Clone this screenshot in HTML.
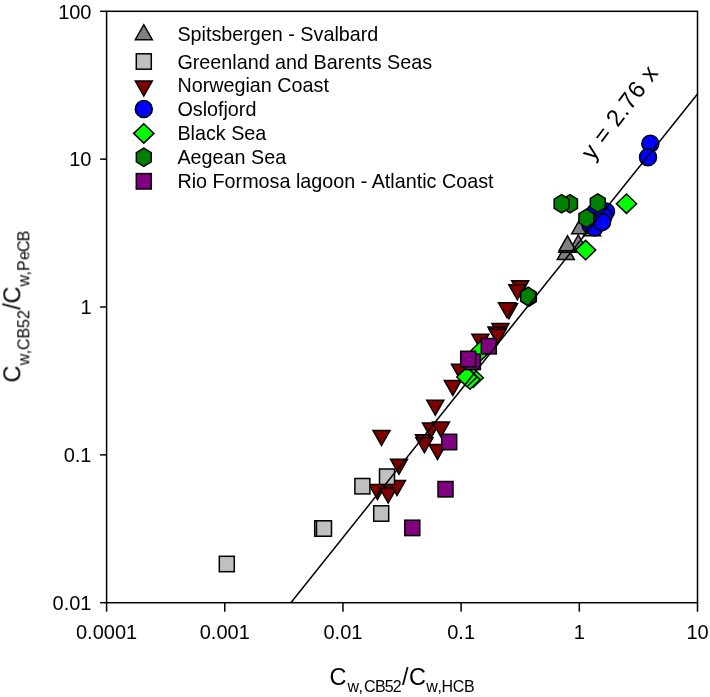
<!DOCTYPE html>
<html><head><meta charset="utf-8"><style>
html,body{margin:0;padding:0;background:#fff;}
body{width:710px;height:697px;overflow:hidden;font-family:"Liberation Sans",sans-serif;}
svg{display:block;}
</style></head><body>
<svg width="710" height="697" viewBox="0 0 710 697">
<rect width="710" height="697" fill="#fff"/>
<g stroke="#000" stroke-width="1.5" stroke-linejoin="miter"><path d="M380.50,484.05L397.50,484.05L389.00,499.05Z" fill="#800000"/><path d="M373.00,430.55L390.00,430.55L381.50,445.55Z" fill="#800000"/><path d="M390.50,459.25L407.50,459.25L399.00,474.25Z" fill="#800000"/><path d="M369.00,484.55L386.00,484.55L377.50,499.55Z" fill="#800000"/><path d="M379.70,488.05L396.70,488.05L388.20,503.05Z" fill="#800000"/><path d="M388.50,480.45L405.50,480.45L397.00,495.45Z" fill="#800000"/><path d="M415.50,434.75L432.50,434.75L424.00,449.75Z" fill="#800000"/><path d="M415.90,437.75L432.90,437.75L424.40,452.75Z" fill="#800000"/><path d="M429.00,444.45L446.00,444.45L437.50,459.45Z" fill="#800000"/><path d="M422.50,422.95L439.50,422.95L431.00,437.95Z" fill="#800000"/><path d="M432.50,422.05L449.50,422.05L441.00,437.05Z" fill="#800000"/><path d="M426.80,400.25L443.80,400.25L435.30,415.25Z" fill="#800000"/><path d="M444.30,380.55L461.30,380.55L452.80,395.55Z" fill="#800000"/><path d="M451.50,364.35L468.50,364.35L460.00,379.35Z" fill="#800000"/><path d="M471.90,334.25L488.90,334.25L480.40,349.25Z" fill="#800000"/><path d="M491.90,323.55L508.90,323.55L500.40,338.55Z" fill="#800000"/><path d="M488.00,326.95L505.00,326.95L496.50,341.95Z" fill="#800000"/><path d="M489.10,329.25L506.10,329.25L497.60,344.25Z" fill="#800000"/><path d="M500.50,303.75L517.50,303.75L509.00,318.75Z" fill="#800000"/><path d="M498.50,302.75L515.50,302.75L507.00,317.75Z" fill="#800000"/><path d="M511.70,280.85L528.70,280.85L520.20,295.85Z" fill="#800000"/><path d="M508.80,284.75L525.80,284.75L517.30,299.75Z" fill="#800000"/><rect x="219.30" y="556.30" width="15.00" height="15.40" fill="#C0C0C0"/><rect x="314.70" y="520.80" width="15.00" height="15.40" fill="#C0C0C0"/><rect x="316.50" y="520.80" width="15.00" height="15.40" fill="#C0C0C0"/><rect x="354.90" y="478.50" width="15.00" height="15.40" fill="#C0C0C0"/><rect x="379.50" y="469.00" width="15.00" height="15.40" fill="#C0C0C0"/><rect x="373.70" y="505.80" width="15.00" height="15.40" fill="#C0C0C0"/><path d="M557.30,259.45L574.30,259.45L565.80,244.45Z" fill="#808080"/><path d="M569.80,249.95L586.80,249.95L578.30,234.95Z" fill="#808080"/><path d="M571.70,233.65L588.70,233.65L580.20,218.65Z" fill="#808080"/><path d="M559.00,252.25L576.00,252.25L567.50,237.25Z" fill="#808080"/><path d="M559.00,250.85L576.00,250.85L567.50,235.85Z" fill="#808080"/><path d="M583.50,235.75L600.50,235.75L592.00,220.75Z" fill="#808080"/><circle cx="650.30" cy="143.80" r="8.5" fill="#0000FF"/><circle cx="648.00" cy="157.30" r="8.5" fill="#0000FF"/><circle cx="595.00" cy="212.50" r="8.5" fill="#0000FF"/><circle cx="590.50" cy="225.00" r="8.5" fill="#0000FF"/><circle cx="594.60" cy="227.40" r="8.5" fill="#0000FF"/><circle cx="606.00" cy="211.50" r="8.5" fill="#0000FF"/><circle cx="603.50" cy="216.50" r="8.5" fill="#0000FF"/><circle cx="602.10" cy="222.00" r="8.5" fill="#0000FF"/><path d="M616.40,203.70L626.50,194.00L636.60,203.70L626.50,213.40Z" fill="#00FF00"/><path d="M575.50,250.10L585.60,240.40L595.70,250.10L585.60,259.80Z" fill="#00FF00"/><path d="M463.10,377.80L473.20,368.10L483.30,377.80L473.20,387.50Z" fill="#00FF00"/><path d="M459.90,379.50L470.00,369.80L480.10,379.50L470.00,389.20Z" fill="#00FF00"/><path d="M456.80,377.00L466.90,367.30L477.00,377.00L466.90,386.70Z" fill="#00FF00"/><path d="M471.10,350.50L481.20,340.80L491.30,350.50L481.20,360.20Z" fill="#00FF00"/><polygon points="570.00,194.65 577.45,199.23 577.45,208.38 570.00,212.95 562.55,208.38 562.55,199.23" fill="#008000"/><polygon points="561.60,194.65 569.05,199.23 569.05,208.38 561.60,212.95 554.15,208.38 554.15,199.23" fill="#008000"/><polygon points="597.80,193.85 605.25,198.43 605.25,207.57 597.80,212.15 590.35,207.57 590.35,198.43" fill="#008000"/><polygon points="586.40,209.15 593.85,213.73 593.85,222.88 586.40,227.45 578.95,222.88 578.95,213.73" fill="#008000"/><polygon points="528.90,287.95 536.35,292.53 536.35,301.68 528.90,306.25 521.45,301.68 521.45,292.53" fill="#008000"/><polygon points="528.10,287.25 535.55,291.82 535.55,300.97 528.10,305.55 520.65,300.97 520.65,291.82" fill="#008000"/><rect x="404.80" y="520.20" width="15.00" height="15.40" fill="#800080"/><rect x="438.00" y="481.50" width="15.00" height="15.40" fill="#800080"/><rect x="441.70" y="434.30" width="15.00" height="15.40" fill="#800080"/><rect x="465.40" y="354.20" width="15.00" height="15.40" fill="#800080"/><rect x="460.70" y="351.30" width="15.00" height="15.40" fill="#800080"/><rect x="481.30" y="338.50" width="15.00" height="15.40" fill="#800080"/></g>
<line x1="290.85" y1="602.70" x2="697.50" y2="93.96" stroke="#000" stroke-width="1.5"/>
<rect x="106.6" y="11.3" width="590.90" height="591.40" fill="none" stroke="#000" stroke-width="1.5"/>
<g stroke="#000" stroke-width="1.5"><line x1="106.60" y1="602.7" x2="106.60" y2="611.7" /><line x1="224.78" y1="602.7" x2="224.78" y2="611.7" /><line x1="342.96" y1="602.7" x2="342.96" y2="611.7" /><line x1="461.14" y1="602.7" x2="461.14" y2="611.7" /><line x1="579.32" y1="602.7" x2="579.32" y2="611.7" /><line x1="697.50" y1="602.7" x2="697.50" y2="611.7" /><line x1="100.1" y1="602.70" x2="106.6" y2="602.70" /><line x1="100.1" y1="454.85" x2="106.6" y2="454.85" /><line x1="100.1" y1="307.00" x2="106.6" y2="307.00" /><line x1="100.1" y1="159.15" x2="106.6" y2="159.15" /><line x1="100.1" y1="11.30" x2="106.6" y2="11.30" /></g>
<g stroke="#000" stroke-width="1.5"><path d="M135.30,39.75L152.30,39.75L143.80,24.75Z" fill="#808080"/><rect x="136.30" y="53.80" width="15.00" height="15.40" fill="#C0C0C0"/><path d="M135.30,81.05L152.30,81.05L143.80,96.05Z" fill="#800000"/><circle cx="143.80" cy="109.00" r="8.5" fill="#0000FF"/><path d="M133.70,133.40L143.80,123.70L153.90,133.40L143.80,143.10Z" fill="#00FF00"/><polygon points="143.80,148.05 151.25,152.62 151.25,161.77 143.80,166.35 136.35,161.77 136.35,152.62" fill="#008000"/><rect x="136.30" y="173.60" width="15.00" height="15.40" fill="#800080"/></g>
<g font-family="'Liberation Sans', sans-serif" fill="#000" style="filter:grayscale(1)">
<text x="177.4" y="41.0" font-size="19.75" letter-spacing="0.0">Spitsbergen - Svalbard</text><text x="177.4" y="68.7" font-size="19.75" letter-spacing="0.0">Greenland and Barents Seas</text><text x="177.4" y="91.7" font-size="19.75" letter-spacing="0.0">Norwegian Coast</text><text x="177.4" y="116.0" font-size="19.75" letter-spacing="0.0">Oslofjord</text><text x="177.4" y="139.8" font-size="19.75" letter-spacing="0.0">Black Sea</text><text x="177.4" y="164.3" font-size="19.75" letter-spacing="0.0">Aegean Sea</text><text x="177.4" y="187.5" font-size="19.75" letter-spacing="0.0">Rio Formosa lagoon - Atlantic Coast</text><text x="106.60" y="639" font-size="20" letter-spacing="0.0" text-anchor="middle">0.0001</text><text x="224.78" y="639" font-size="20" letter-spacing="0.0" text-anchor="middle">0.001</text><text x="342.96" y="639" font-size="20" letter-spacing="0.0" text-anchor="middle">0.01</text><text x="461.14" y="639" font-size="20" letter-spacing="0.0" text-anchor="middle">0.1</text><text x="579.32" y="639" font-size="20" letter-spacing="0.0" text-anchor="middle">1</text><text x="697.50" y="639" font-size="20" letter-spacing="0.0" text-anchor="middle">10</text><text x="91.5" y="610.00" font-size="20" letter-spacing="0.0" text-anchor="end">0.01</text><text x="91.5" y="462.15" font-size="20" letter-spacing="0.0" text-anchor="end">0.1</text><text x="91.5" y="314.30" font-size="20" letter-spacing="0.0" text-anchor="end">1</text><text x="91.5" y="166.45" font-size="20" letter-spacing="0.0" text-anchor="end">10</text><text x="91.5" y="18.60" font-size="20" letter-spacing="0.0" text-anchor="end">100</text>
<text transform="translate(592.8,161.5) rotate(-53.11)" font-size="24" letter-spacing="0.6">y = 2.76 x</text>
<text font-size="23.5" y="684.5"><tspan x="329.4">C</tspan><tspan font-size="16" y="691.5" x="347.5 358.4 363.9 374.9 384.7 392.8">w,CB52</tspan><tspan y="684.5" x="401.9 408.9">/C</tspan><tspan font-size="16" y="691.5" x="426.3 437.5 441.6 452.7 464.0">w,HCB</tspan></text>
<text transform="translate(20.3,382.5) rotate(-90)" font-size="23.5" y="0"><tspan x="0">C</tspan><tspan font-size="16" y="8.7" x="17.3 28.3 32.6 44.0 54.5 63.6">w,CB52</tspan><tspan y="0" x="72.7 78.9">/C</tspan><tspan font-size="16" y="8.7" x="95.9 107.1 111.4 122.4 130.6 141.2">w,PeCB</tspan></text>
</g>
</svg>
</body></html>
